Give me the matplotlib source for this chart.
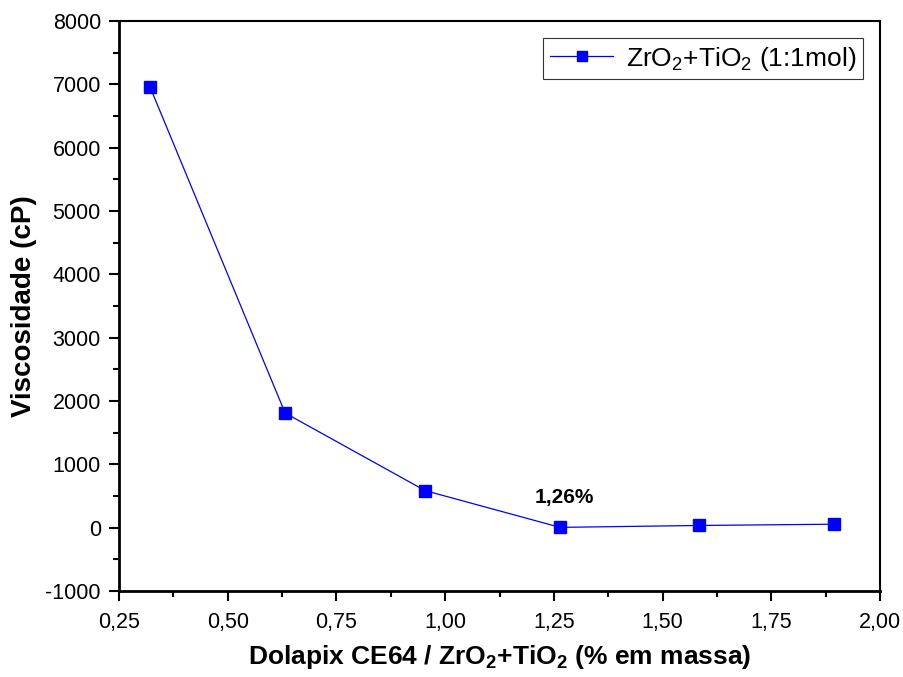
import matplotlib.pyplot as plt
from matplotlib.ticker import MultipleLocator

plt.rcParams['font.family'] = ['Liberation Sans', 'DejaVu Sans']
plt.rcParams['mathtext.fontset'] = 'custom'
plt.rcParams['mathtext.rm'] = 'Liberation Sans'
plt.rcParams['mathtext.bf'] = 'Liberation Sans:bold'
plt.rcParams['axes.unicode_minus'] = False

# dados
dolapix = [0.321, 0.632, 0.954, 1.264, 1.584, 1.894]
viscosidade = [6965, 1810, 585, 5, 35, 55]

fig = plt.figure(figsize=(9.04, 6.77), dpi=100)
ax = fig.add_axes([0.1316, 0.127, 0.842, 0.842])

ax.plot(dolapix, viscosidade, color='#0000ff', lw=0.9, marker='s', ms=9,
        mfc='#0000ff', mec='#0000ff',
        label=r'ZrO$_2$+TiO$_2$ (1:1mol)')

ax.set_xlim(0.25, 2.0)
ax.set_ylim(-1000, 8000)
ax.xaxis.set_major_locator(MultipleLocator(0.25))
ax.xaxis.set_minor_locator(MultipleLocator(0.125))
ax.yaxis.set_major_locator(MultipleLocator(1000))
ax.yaxis.set_minor_locator(MultipleLocator(500))
ax.xaxis.set_major_formatter(lambda v, p: f'{v:.2f}'.replace('.', ','))

ax.tick_params(which='major', direction='out', length=7, width=1.5, labelsize=15.5)
ax.tick_params(which='minor', direction='out', length=4, width=1.5)
ax.tick_params(axis='x', pad=8)
ax.tick_params(axis='y', pad=6)
for s in ['left', 'bottom']:
    ax.spines[s].set_linewidth(2)
for s in ['top', 'right']:
    ax.spines[s].set_linewidth(1.5)

ax.set_xlabel(r'Dolapix CE64 / ZrO$_\mathbf{2}$+TiO$_\mathbf{2}$ (% em massa)',
              fontsize=19, fontweight='bold', labelpad=7)
ax.set_ylabel('Viscosidade (cP)', fontsize=20, fontweight='bold', labelpad=6)

ax.text(1.273, 390, '1,26%', fontsize=15, fontweight='bold', ha='center', va='baseline')

leg = ax.legend(loc='upper right', fontsize=19, frameon=True, fancybox=False,
                edgecolor='black', handlelength=2.4, handletextpad=0.5,
                borderpad=0.25, borderaxespad=0, markerscale=0.75,
                bbox_to_anchor=(0.978, 0.970))
leg.get_frame().set_linewidth(0.8)

fig.savefig('out.png', dpi=100)
